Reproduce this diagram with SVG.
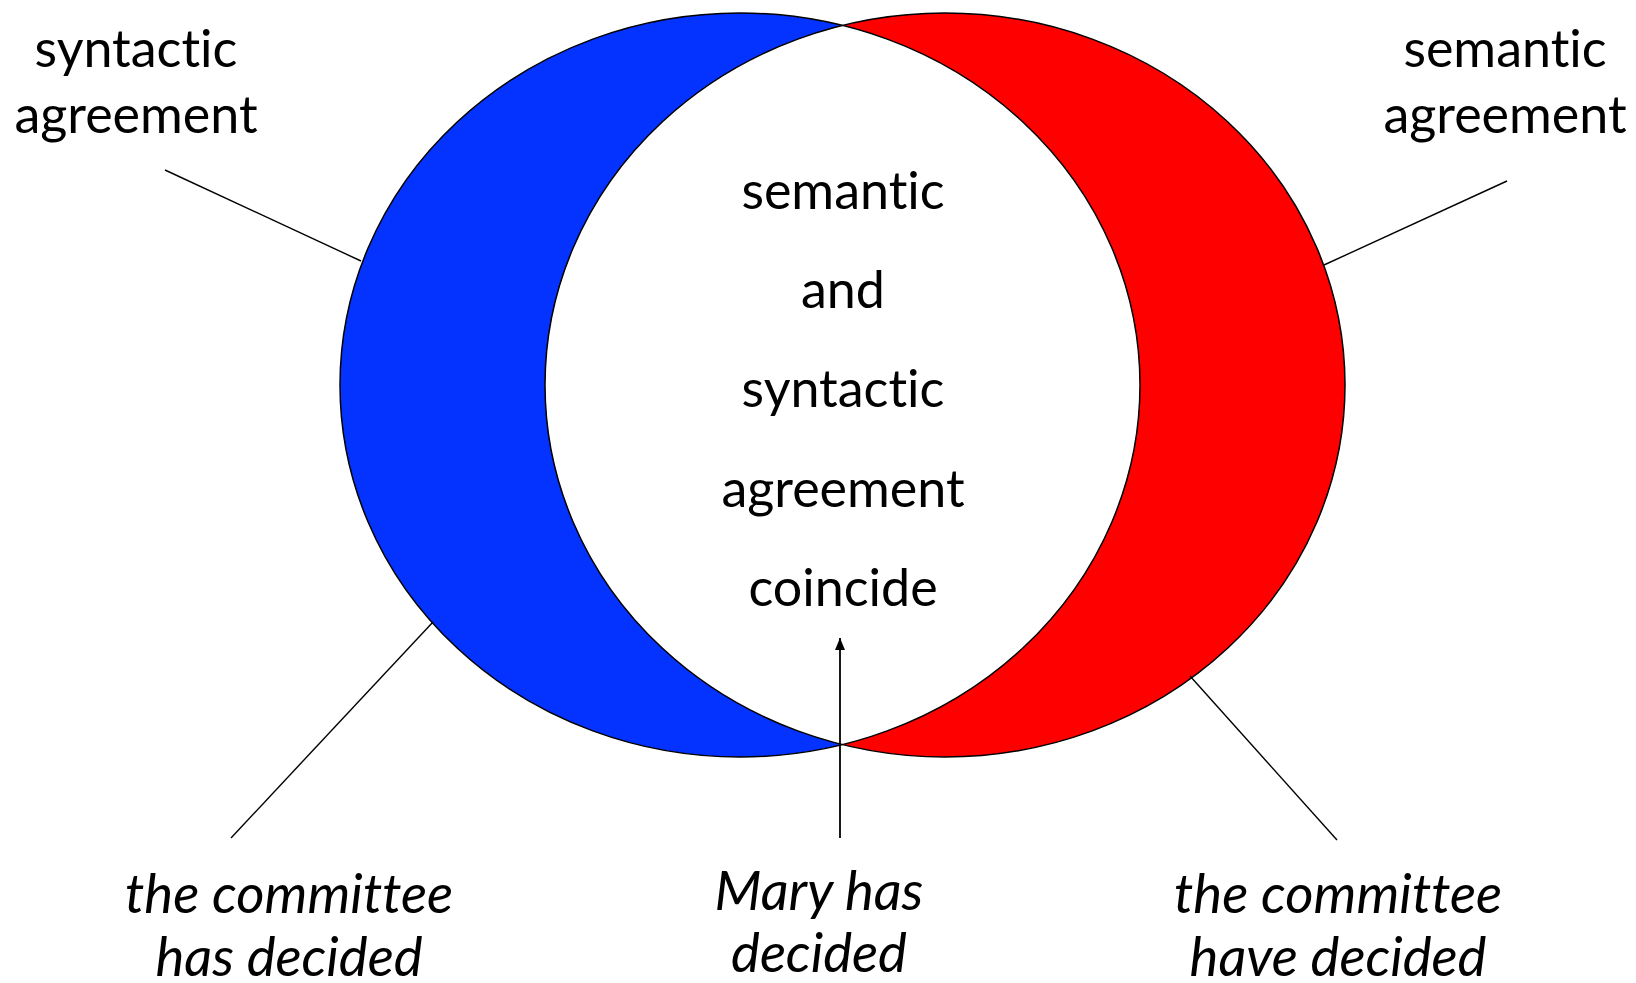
<svg xmlns="http://www.w3.org/2000/svg" width="1636" height="983" viewBox="0 0 1636 983">
<style>
.lbl{font-family:Lato,"Liberation Sans",sans-serif;font-size:52px;fill:#000;text-anchor:middle;font-variant-ligatures:none;font-feature-settings:"liga" 0,"clig" 0}
.it{font-style:italic;font-size:54.5px}
.con{stroke:#000;stroke-width:1.4;fill:none}
.outline{stroke:#000;stroke-width:1.5;fill:none}
</style>
<defs>
<clipPath id="clipL"><ellipse cx="740" cy="385" rx="400" ry="372"/></clipPath>
<marker id="arr" viewBox="0 0 12 10" refX="12" refY="5" markerWidth="12" markerHeight="10" markerUnits="userSpaceOnUse" orient="auto">
<path d="M0,0 L12,5 L0,10 Z" fill="#000"/>
</marker>
</defs>
<g id="venn">
<ellipse id="left-ellipse" cx="740" cy="385" rx="400" ry="372" fill="#0433FF"/>
<ellipse id="right-ellipse" cx="945" cy="385" rx="400" ry="372" fill="#FF0000"/>
<ellipse cx="945" cy="385" rx="400" ry="372" fill="#FFFFFF" clip-path="url(#clipL)"/>
<ellipse class="outline" cx="740" cy="385" rx="400" ry="372"/>
<ellipse class="outline" cx="945" cy="385" rx="400" ry="372"/>
</g>
<g id="connectors">
<line class="con" x1="165" y1="170" x2="361" y2="261"/>
<line class="con" x1="1507" y1="181" x2="1324" y2="265"/>
<line class="con" x1="433" y1="622" x2="231" y2="838"/>
<line class="con" x1="1190" y1="676" x2="1337" y2="840"/>
<line x1="840" y1="838" x2="840" y2="638" stroke="#000" stroke-width="1.8" marker-end="url(#arr)"/>
</g>
<g id="label-syntactic">
<text class="lbl" x="136" y="67">syntactic</text>
<text class="lbl" x="136" y="133">agreement</text>
</g>
<g id="label-semantic">
<text class="lbl" x="1505" y="67">semantic</text>
<text class="lbl" x="1505" y="133">agreement</text>
</g>
<g id="label-center">
<text class="lbl" x="843" y="209">semantic</text>
<text class="lbl" x="843" y="308">and</text>
<text class="lbl" x="843" y="407">syntactic</text>
<text class="lbl" x="843" y="507">agreement</text>
<text class="lbl" x="843" y="606">coincide</text>
</g>
<g id="label-has">
<text class="lbl it" x="289" y="913">the committee</text>
<text class="lbl it" x="289" y="976">has decided</text>
</g>
<g id="label-mary">
<text class="lbl it" x="819" y="910">Mary has</text>
<text class="lbl it" x="819" y="972">decided</text>
</g>
<g id="label-have">
<text class="lbl it" x="1338" y="913">the committee</text>
<text class="lbl it" x="1338" y="976">have decided</text>
</g>
</svg>
